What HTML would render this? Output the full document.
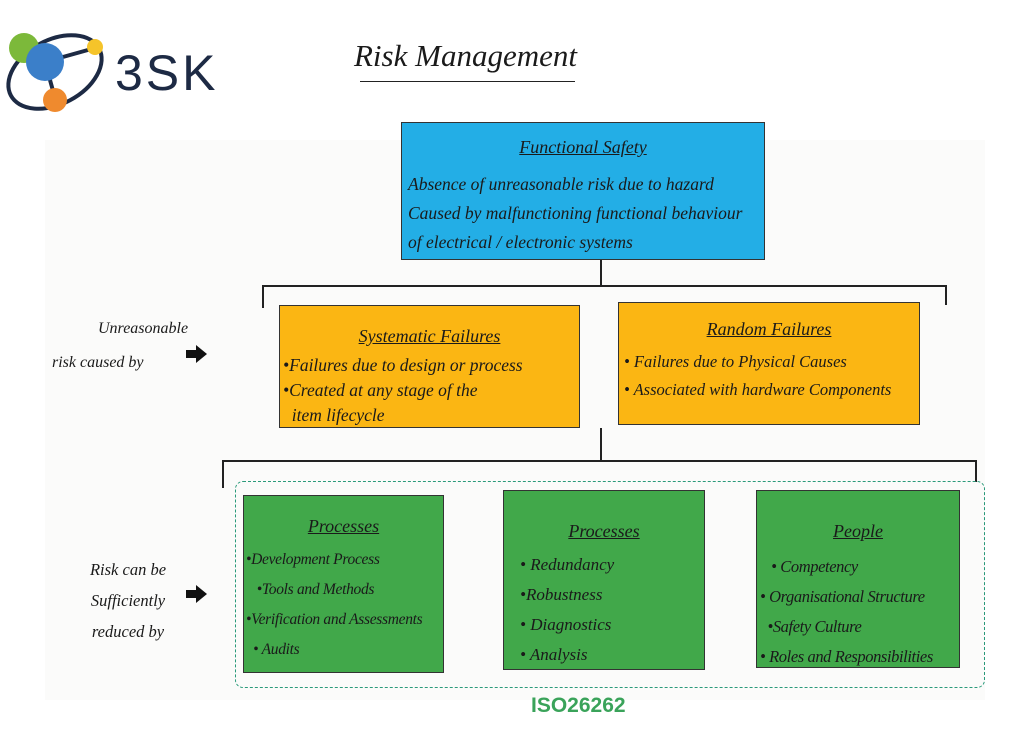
<!DOCTYPE html>
<html><head><meta charset="utf-8"><style>
body{margin:0;width:1024px;height:736px;background:#fff;position:relative;overflow:hidden;font-family:"Liberation Serif",serif;font-style:italic;color:#1a1a1a}
.a{position:absolute}
.box{position:absolute;border:1.5px solid #333;box-sizing:border-box;white-space:nowrap;overflow:hidden}
.t{font-size:16px;line-height:1}
.h{text-decoration:underline;text-align:center;font-size:18px}
.ln{position:absolute;background:#222}
.arr{position:absolute;width:0;height:0;border-top:9px solid transparent;border-bottom:9px solid transparent;border-left:11px solid #111}
.arrb{position:absolute;width:10px;height:8px;background:#111}
</style></head><body>
<div class="a" style="left:45px;top:140px;width:940px;height:560px;background:#fbfbfa"></div>
<svg class="a" style="left:0;top:20px" width="240" height="100">
<ellipse cx="55" cy="52" rx="50" ry="32" transform="rotate(-28 55 52)" fill="none" stroke="#1d2a44" stroke-width="4"/>
<line x1="27" y1="28" x2="45" y2="42" stroke="#1d2a44" stroke-width="4"/>
<line x1="45" y1="42" x2="95" y2="28" stroke="#1d2a44" stroke-width="4"/>
<line x1="45" y1="42" x2="55" y2="78" stroke="#1d2a44" stroke-width="4"/>
<circle cx="24" cy="28" r="15" fill="#7cb93a"/>
<circle cx="45" cy="42" r="19" fill="#3b7fc9"/>
<circle cx="95" cy="27" r="8" fill="#f5c42a"/>
<circle cx="55" cy="80" r="12" fill="#ef8a2e"/>
<text x="115" y="70" font-family="Liberation Sans" font-style="normal" font-size="50" fill="#1d2a44" letter-spacing="3">3SK</text>
</svg>
<div class="a" style="left:354px;top:38px;font-size:31px">Risk Management</div>
<div class="ln" style="left:360px;top:81px;width:215px;height:1px"></div>
<div class="box" style="left:401px;top:122px;width:364px;height:138px;background:#23aee6">
<div class="h" style="margin-top:14px">Functional Safety</div>
<div class="t" style="margin:12px 0 0 6px;line-height:29px;font-size:17.5px">Absence of unreasonable risk due to hazard<br>Caused by malfunctioning functional behaviour<br>of electrical / electronic systems</div></div>
<div class="ln" style="left:600px;top:260px;width:1.5px;height:25px"></div>
<div class="ln" style="left:262px;top:285px;width:684px;height:1.5px"></div>
<div class="ln" style="left:262px;top:285px;width:1.5px;height:23px"></div>
<div class="ln" style="left:945px;top:285px;width:1.5px;height:20px"></div>
<div class="box" style="left:279px;top:305px;width:301px;height:123px;background:#fbb613">
<div class="h" style="margin-top:20px">Systematic Failures</div>
<div class="t" style="margin:6px 0 0 3px;line-height:25px;font-size:17.5px">•Failures due to design or process<br>•Created at any stage of the<br>&nbsp;&nbsp;item lifecycle</div></div>
<div class="box" style="left:618px;top:302px;width:302px;height:123px;background:#fbb613">
<div class="h" style="margin-top:16px">Random Failures</div>
<div class="t" style="margin:8px 0 0 5px;line-height:28px;font-size:16.5px">• Failures due to Physical Causes<br>• Associated with hardware Components</div></div>
<div class="a t" style="left:98px;top:312px;line-height:34px;font-size:16px">Unreasonable</div>
<div class="a t" style="left:52px;top:346px;line-height:34px;font-size:16px">risk caused by</div>
<div class="arrb" style="left:186px;top:350px"></div><div class="arr" style="left:196px;top:345px"></div>
<div class="ln" style="left:600px;top:428px;width:1.5px;height:32px"></div>
<div class="ln" style="left:222px;top:460px;width:754px;height:1.5px"></div>
<div class="ln" style="left:222px;top:460px;width:1.5px;height:28px"></div>
<div class="ln" style="left:975px;top:460px;width:1.5px;height:22px"></div>
<div class="a" style="left:235px;top:481px;width:750px;height:207px;border:1.5px dashed #2a9a7a;border-radius:8px;box-sizing:border-box"></div>
<div class="box" style="left:243px;top:495px;width:201px;height:178px;background:#41a84a">
<div class="h" style="margin-top:20px">Processes</div>
<div class="t" style="margin:8px 0 0 2px;line-height:30px;font-size:15.5px;letter-spacing:-0.3px">•Development Process<br>&nbsp;&nbsp;&nbsp;•Tools and Methods<br>•Verification and Assessments<br>&nbsp;&nbsp;• Audits</div></div>
<div class="box" style="left:503px;top:490px;width:202px;height:180px;background:#41a84a">
<div class="h" style="margin-top:30px">Processes</div>
<div class="t" style="margin:8px 0 0 16px;line-height:30px;font-size:17px">• Redundancy<br>•Robustness<br>• Diagnostics<br>• Analysis</div></div>
<div class="box" style="left:756px;top:490px;width:204px;height:178px;background:#41a84a">
<div class="h" style="margin-top:30px">People</div>
<div class="t" style="margin:10px 0 0 3px;line-height:30px;font-size:16.5px;letter-spacing:-0.4px">&nbsp;&nbsp;&nbsp;• Competency<br>• Organisational Structure<br>&nbsp;&nbsp;•Safety Culture<br>• Roles and Responsibilities</div></div>
<div class="a t" style="left:68px;top:554px;line-height:31px;text-align:center;width:120px;font-size:16.5px">Risk can be<br>Sufficiently<br>reduced by</div>
<div class="arrb" style="left:186px;top:590px"></div><div class="arr" style="left:196px;top:585px"></div>
<div class="a" style="left:531px;top:694px;font-family:'Liberation Sans',sans-serif;font-style:normal;font-weight:bold;font-size:21px;color:#3aa35a">ISO26262</div>
</body></html>
